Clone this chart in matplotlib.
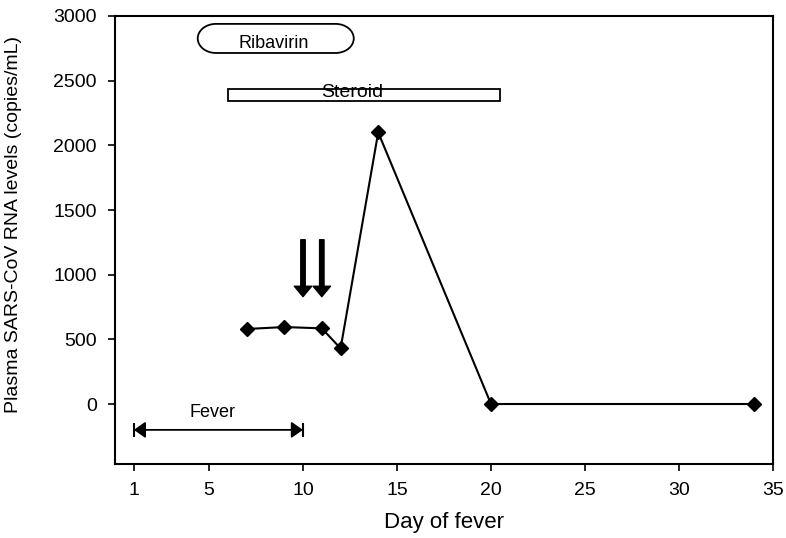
import matplotlib
matplotlib.use("Agg")
import numpy as np
import matplotlib.pyplot as plt
from matplotlib.patches import PathPatch, Rectangle
from matplotlib.path import Path
from matplotlib.transforms import IdentityTransform

plt.rcParams['font.family'] = ['Liberation Sans', 'DejaVu Sans']

# measured values
days = [7, 9, 11, 12, 14, 20, 34]
rna_levels = [580, 595, 585, 430, 2100, 0, 0]

arrow_days = [10, 11]
arrow_top, arrow_tip = 1270, 830

ribavirin_span = (4.4, 12.7)
ribavirin_y = (2714, 2939)
steroid_span = (6.0, 20.5)
steroid_y = (2340, 2432)
fever_span = (1, 10)
fever_y = -200

xticks = [1, 5, 10, 15, 20, 25, 30, 35]
yticks = [0, 500, 1000, 1500, 2000, 2500, 3000]

W, H = 786, 538
fig = plt.figure(figsize=(W / 100, H / 100), dpi=100)
ax_l, ax_r, ax_t, ax_b = 115, 773, 16, 463.5
ax = fig.add_axes([ax_l / W, (H - ax_b) / H, (ax_r - ax_l) / W, (ax_b - ax_t) / H])
ax.set_xlim(0, 35)
ax.set_ylim(-460, 3000)

ax.plot(days, rna_levels, color='black', lw=1.5, marker='D', ms=7.5, zorder=3)

for d in arrow_days:
    ax.annotate('', xy=(d, arrow_tip), xytext=(d, arrow_top),
                arrowprops=dict(facecolor='black', edgecolor='black', width=3.2,
                                headwidth=12.5, headlength=7.5, shrink=0))

# ribavirin oval, built in pixel space so the ends stay round
(px0, py0), (px1, py1) = ax.transData.transform(
    [(ribavirin_span[0], ribavirin_y[0]), (ribavirin_span[1], ribavirin_y[1])])
ry = (py1 - py0) / 2
rx = ry * 1.25
cy = (py0 + py1) / 2
left = Path.arc(90, 270)
right = Path.arc(-90, 90)
lv = left.vertices * [rx, ry] + [px0 + rx, cy]
rv = right.vertices * [rx, ry] + [px1 - rx, cy]
rcodes = right.codes.copy()
rcodes[0] = Path.LINETO
verts = np.concatenate([lv, rv, lv[:1], lv[:1]])
codes = np.concatenate([left.codes, rcodes, [Path.LINETO, Path.CLOSEPOLY]])
oval = PathPatch(Path(verts, codes), transform=IdentityTransform(),
                 facecolor='white', edgecolor='black', lw=1.3)
ax.add_patch(oval)
ax.text(8.46, 2753, 'Ribavirin', ha='center', va='baseline', fontsize=13)

box = Rectangle((steroid_span[0], steroid_y[0]), steroid_span[1] - steroid_span[0],
                steroid_y[1] - steroid_y[0], facecolor='white', edgecolor='black', lw=1.3)
ax.add_patch(box)
ax.text(12.6, 2372, 'Steroid', ha='center', va='baseline', fontsize=14)

# fever bar
ax.annotate('', xy=(fever_span[1], fever_y), xytext=(fever_span[0], fever_y),
            arrowprops=dict(arrowstyle='<|-|>,head_length=0.5,head_width=0.35', color='black',
                            lw=1.3, mutation_scale=14, shrinkA=0, shrinkB=0))
ax.plot(fever_span, [fever_y, fever_y], ls='none', marker='|', ms=10, mew=1.5, color='black')
ax.text(5.2, -100, 'Fever', ha='center', va='baseline', fontsize=13)

ax.set_xticks(xticks)
ax.set_yticks(yticks)
ax.tick_params(direction='out', length=5, width=1.2, labelsize=14, pad=8)
for s in ax.spines.values():
    s.set_linewidth(1.5)

ax.set_xlabel('Day of fever', fontsize=16, va='top')
ax.xaxis.set_label_coords(0.5, -0.108)
ax.set_ylabel('Plasma SARS-CoV RNA levels (copies/mL)', fontsize=14)
ax.yaxis.set_label_coords(-0.141, 0.533)

fig.savefig('out.png', dpi=100)
